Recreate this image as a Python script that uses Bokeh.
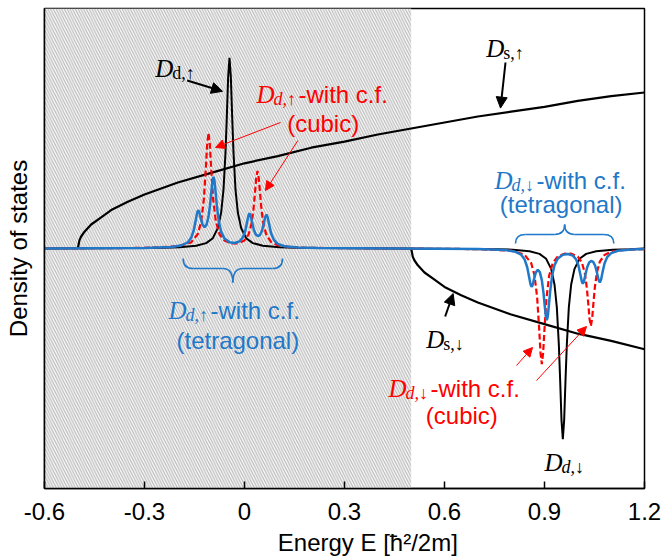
from bokeh.plotting import figure
from bokeh.models import Label, Arrow, NormalHead, FixedTicker
from bokeh.embed import file_html
from bokeh.resources import INLINE

# ---------------- data ----------------
x_ticks = [-0.6, -0.3, 0, 0.3, 0.6, 0.9, 1.2]
x_tick_labels = ["-0.6", "-0.3", "0", "0.3", "0.6", "0.9", "1.2"]
shade_left, shade_right = -0.6, 0.5

# s-band DOS, spin up / spin down
ds_up_x = [-0.5, -0.495, -0.49, -0.48, -0.46, -0.43, -0.4, -0.35, -0.3, -0.2, -0.1, 0.0,
           0.1, 0.2, 0.3, 0.4, 0.5, 0.6, 0.7, 0.8, 0.9, 1.0, 1.1, 1.2]
ds_up_y = [0, 0.07, 0.10, 0.14, 0.20, 0.26, 0.32, 0.39, 0.45, 0.55, 0.63, 0.71,
           0.77, 0.84, 0.89, 0.95, 1.0, 1.05, 1.10, 1.14, 1.18, 1.23, 1.27, 1.30]
ds_dn_x = [0.5, 0.505, 0.51, 0.52, 0.54, 0.57, 0.6, 0.65, 0.7, 0.8, 0.9, 1.0, 1.1, 1.2]
ds_dn_y = [0, -0.07, -0.10, -0.14, -0.20, -0.26, -0.32, -0.39, -0.45, -0.55, -0.63, -0.71, -0.77, -0.84]

# d-band DOS, no crystal field (black)
dd_up_x = [-0.245, -0.195, -0.145, -0.115, -0.095, -0.08, -0.07, -0.063, -0.057, -0.053, -0.049, -0.045,
           -0.041, -0.037, -0.033, -0.027, -0.02, -0.01, 0.005, 0.025, 0.055, 0.105, 0.155]
dd_up_y = [0.006, 0.01, 0.023, 0.045, 0.086, 0.17, 0.30, 0.49, 0.80, 1.10, 1.43, 1.59,
           1.43, 1.10, 0.80, 0.49, 0.30, 0.17, 0.086, 0.045, 0.023, 0.01, 0.006]
dd_dn_x = [0.755, 0.805, 0.855, 0.885, 0.905, 0.92, 0.93, 0.937, 0.943, 0.947, 0.951, 0.955,
           0.959, 0.963, 0.967, 0.973, 0.98, 0.99, 1.005, 1.025, 1.055, 1.105, 1.155]
dd_dn_y = [-0.006, -0.01, -0.023, -0.045, -0.086, -0.17, -0.30, -0.49, -0.80, -1.10, -1.43, -1.59,
           -1.43, -1.10, -0.80, -0.49, -0.30, -0.17, -0.086, -0.045, -0.023, -0.01, -0.006]

# d-band DOS, cubic crystal field (red dashed)
cub_up_x = [-0.3, -0.2, -0.16, -0.14, -0.13, -0.122, -0.116, -0.112, -0.108, -0.104, -0.1, -0.094,
            -0.086, -0.075, -0.06, -0.04, -0.02, 0.0, 0.012, 0.021, 0.027, 0.031, 0.035, 0.039,
            0.043, 0.047, 0.051, 0.057, 0.066, 0.08, 0.1, 0.14, 0.2]
cub_up_y = [0.005, 0.018, 0.051, 0.121, 0.223, 0.41, 0.668, 0.868, 0.964, 0.868, 0.669, 0.412,
            0.226, 0.119, 0.066, 0.043, 0.043, 0.067, 0.115, 0.205, 0.328, 0.45, 0.583, 0.646,
            0.582, 0.449, 0.325, 0.202, 0.11, 0.054, 0.027, 0.011, 0.005]
cub_dn_x = [0.7, 0.8, 0.84, 0.86, 0.87, 0.878, 0.884, 0.888, 0.892, 0.896, 0.9, 0.906,
            0.914, 0.925, 0.94, 0.96, 0.98, 1.0, 1.012, 1.021, 1.027, 1.031, 1.035, 1.039,
            1.043, 1.047, 1.051, 1.057, 1.066, 1.08, 1.1, 1.14, 1.2]
cub_dn_y = [-0.005, -0.018, -0.051, -0.121, -0.223, -0.41, -0.668, -0.868, -0.964, -0.868, -0.669, -0.412,
            -0.226, -0.119, -0.066, -0.043, -0.043, -0.067, -0.115, -0.205, -0.328, -0.45, -0.583, -0.646,
            -0.582, -0.449, -0.325, -0.202, -0.11, -0.054, -0.027, -0.011, -0.005]

# d-band DOS, tetragonal crystal field (blue)
tet_up_x = [-0.3, -0.22, -0.19, -0.17, -0.16, -0.152, -0.146, -0.142, -0.139, -0.136, -0.132, -0.126,
            -0.12, -0.114, -0.108, -0.103, -0.099, -0.096, -0.093, -0.09, -0.087, -0.083, -0.077,
            -0.07, -0.06, -0.045, -0.03, -0.015, -0.005, 0.002, 0.008, 0.012, 0.015, 0.018, 0.022,
            0.028, 0.034, 0.04, 0.046, 0.052, 0.058, 0.062, 0.066, 0.07, 0.074, 0.08, 0.088, 0.1,
            0.12, 0.16, 0.22]
tet_up_y = [0.004, 0.012, 0.025, 0.052, 0.089, 0.154, 0.239, 0.299, 0.319, 0.308, 0.261, 0.199,
            0.178, 0.197, 0.264, 0.370, 0.486, 0.564, 0.598, 0.562, 0.479, 0.357, 0.224,
            0.139, 0.083, 0.052, 0.046, 0.059, 0.092, 0.144, 0.222, 0.276, 0.293, 0.278, 0.227,
            0.156, 0.117, 0.104, 0.111, 0.144, 0.208, 0.26, 0.284, 0.256, 0.199, 0.125, 0.072, 0.038,
            0.019, 0.008, 0.004]
tet_dn_x = [0.7, 0.78, 0.81, 0.83, 0.84, 0.848, 0.854, 0.858, 0.861, 0.864, 0.868, 0.874,
            0.88, 0.886, 0.892, 0.897, 0.901, 0.904, 0.907, 0.91, 0.913, 0.917, 0.923,
            0.93, 0.94, 0.955, 0.97, 0.985, 0.995, 1.002, 1.008, 1.012, 1.015, 1.018, 1.022,
            1.028, 1.034, 1.04, 1.046, 1.052, 1.058, 1.062, 1.066, 1.07, 1.074, 1.08, 1.088, 1.1,
            1.12, 1.16, 1.2]
tet_dn_y = [-0.004, -0.012, -0.025, -0.052, -0.089, -0.154, -0.239, -0.299, -0.319, -0.308, -0.261, -0.199,
            -0.178, -0.197, -0.264, -0.370, -0.486, -0.564, -0.598, -0.562, -0.479, -0.357, -0.224,
            -0.139, -0.083, -0.052, -0.046, -0.059, -0.092, -0.144, -0.222, -0.276, -0.293, -0.278, -0.227,
            -0.156, -0.117, -0.104, -0.111, -0.144, -0.208, -0.26, -0.284, -0.256, -0.199, -0.125, -0.072, -0.038,
            -0.019, -0.008, -0.004]

# ---------------- styling ----------------
BLUE = "#1f78c8"
RED = "#ff0000"
SANS = "Liberation Sans"
SERIF = "Liberation Serif"

X0, X1 = -0.6, 1.2
Y0, Y1 = -2.0, 2.0

p = figure(frame_width=600, frame_height=480, x_range=(X0, X1), y_range=(Y0, Y1),
           output_backend="svg", toolbar_location=None,
           min_border_left=44, min_border_right=17, min_border_top=8, min_border_bottom=70)
p.background_fill_color = "white"
p.border_fill_color = "white"
p.outline_line_color = "black"
p.outline_line_width = 1.5
p.xgrid.visible = False
p.ygrid.visible = False

p.xaxis.ticker = FixedTicker(ticks=x_ticks)
p.xaxis.major_label_overrides = {t: l for t, l in zip(x_ticks, x_tick_labels)}
p.xaxis.major_label_text_font = SANS
p.xaxis.major_label_text_font_size = "24px"
p.xaxis.major_label_text_color = "black"
p.xaxis.major_label_standoff = 14
p.xaxis.major_tick_in = 7
p.xaxis.major_tick_out = 0
p.xaxis.major_tick_line_width = 1.5
p.xaxis.major_tick_line_color = "black"
p.xaxis.minor_tick_line_color = None
p.xaxis.axis_line_color = "black"
p.xaxis.axis_line_width = 1.5
p.xaxis.axis_label = "\u00a0" * 7 + "Energy E [ħ²/2m]"
p.xaxis.axis_label_text_font = SANS
p.xaxis.axis_label_text_font_size = "24px"
p.xaxis.axis_label_text_font_style = "normal"
p.xaxis.axis_label_text_color = "black"
p.xaxis.axis_label_standoff = 6

p.yaxis.ticker = FixedTicker(ticks=[])
p.yaxis.major_label_text_font_size = "0px"
p.yaxis.major_label_standoff = 0
p.yaxis.major_tick_line_color = None
p.yaxis.minor_tick_line_color = None
p.yaxis.axis_line_color = "black"
p.yaxis.axis_line_width = 1.5
p.yaxis.axis_label = "Density of states"
p.yaxis.axis_label_text_font = SANS
p.yaxis.axis_label_text_font_size = "24px"
p.yaxis.axis_label_text_font_style = "normal"
p.yaxis.axis_label_text_color = "black"
p.yaxis.axis_label_standoff = 13

# hatched region
p.quad(left=shade_left, right=shade_right, bottom=Y0, top=Y1, fill_color="#f6f6f6",
       hatch_pattern="\\", hatch_color="#b3b3b3", hatch_scale=5.5, hatch_weight=1.0,
       line_color=None)

# s-band curves
p.line(ds_up_x, ds_up_y, line_color="black", line_width=2.2)
p.line(ds_dn_x, ds_dn_y, line_color="black", line_width=2.2)

# d-band curves
bx = [X0] + dd_up_x + dd_dn_x + [X1]
by = [0] + dd_up_y + dd_dn_y + [0]
p.line(bx, by, line_color="black", line_width=2.0)

rx = [X0] + cub_up_x + cub_dn_x
ry = [0] + cub_up_y + cub_dn_y
p.line(rx, ry, line_color=RED, line_width=2.2, line_dash="6 3")

tx = [X0] + tet_up_x + tet_dn_x
ty = [0] + tet_up_y + tet_dn_y
p.line(tx, ty, line_color=BLUE, line_width=2.5)


# ---------------- annotations ----------------
SUB_DX = 0.051     # 17 px
REST_DX = 0.126    # 42 px
SUB_DY = -0.035


def math_label(x, y, sub, color, sub_italic, rest=None):
    p.add_layout(Label(x=x, y=y, text="D", text_font=SERIF, text_font_style="italic",
                       text_font_size="25px", text_color=color, text_baseline="alphabetic"))
    p.add_layout(Label(x=x + SUB_DX, y=y + SUB_DY, text=sub, text_font=SERIF,
                       text_font_style="italic" if sub_italic else "normal",
                       text_font_size="18px", text_color=color, text_baseline="alphabetic"))
    if rest:
        text(x + REST_DX, y, rest, color)


def text(x, y, t, color, align="left"):
    p.add_layout(Label(x=x, y=y, text=t, text_font=SANS, text_font_size="24px",
                       text_color=color, text_align=align, text_baseline="alphabetic"))


def arrow(xs, ys, xe, ye, color, lw, size):
    p.add_layout(Arrow(end=NormalHead(size=size, fill_color=color, line_color=color, line_width=1),
                       x_start=xs, y_start=ys, x_end=xe, y_end=ye,
                       line_color=color, line_width=lw))


def brace(xl, xr, ye, ya, yt, w):
    xm = 0.5 * (xl + xr)
    p.quadratic(x0=[xl, xm - w, xm, xr - w], y0=[ye, ya, yt, ya],
                x1=[xl + w, xm, xm + w, xr], y1=[ya, yt, ya, ye],
                cx=[xl, xm, xm, xr], cy=[ya, ya, ya, ya],
                line_color=BLUE, line_width=1.6)
    p.segment(x0=[xl + w, xm + w], y0=[ya, ya], x1=[xm - w, xr - w], y1=[ya, ya],
              line_color=BLUE, line_width=1.6)


# D_d,up (black)
math_label(-0.268, 1.50, "d,↑", "black", False)
arrow(-0.172, 1.40, -0.066, 1.31, "black", 2, 11)

# D_d,up with c.f. (cubic) red
math_label(0.036, 1.283, "d,↑", RED, True, "-with c.f.")
text(0.236, 1.042, "(cubic)", RED, "center")
arrow(0.108, 1.05, -0.087, 0.842, RED, 1, 9)
arrow(0.160, 0.90, 0.063, 0.483, RED, 1, 9)

# D_s,up
math_label(0.725, 1.667, "s,↑", "black", False)
arrow(0.783, 1.55, 0.768, 1.17, "black", 2, 11)

# D_d,down with c.f. (tetragonal) blue
math_label(0.750, 0.567, "d,↓", BLUE, True, "-with c.f.")
text(0.950, 0.367, "(tetragonal)", BLUE, "center")
brace(0.813, 1.108, 0.042, 0.117, 0.20, 0.03)

# D_d,up with c.f. (tetragonal) blue
brace(-0.184, 0.114, -0.083, -0.167, -0.283, 0.03)
math_label(-0.228, -0.517, "d,↑", BLUE, True, "-with c.f.")
text(-0.020, -0.767, "(tetragonal)", BLUE, "center")

# D_s,down
math_label(0.545, -0.758, "s,↓", "black", False)
arrow(0.602, -0.567, 0.626, -0.375, "black", 2, 11)

# D_d,down with c.f. (cubic) red
math_label(0.432, -1.167, "d,↓", RED, True, "-with c.f.")
text(0.652, -1.392, "(cubic)", RED, "center")
arrow(0.816, -0.975, 0.864, -0.825, RED, 1, 9)
arrow(0.876, -1.10, 1.026, -0.65, RED, 1, 9)

# D_d,down (black)
math_label(0.900, -1.783, "d,↓", "black", True)

open("out.html", "w").write(file_html(p, INLINE))
